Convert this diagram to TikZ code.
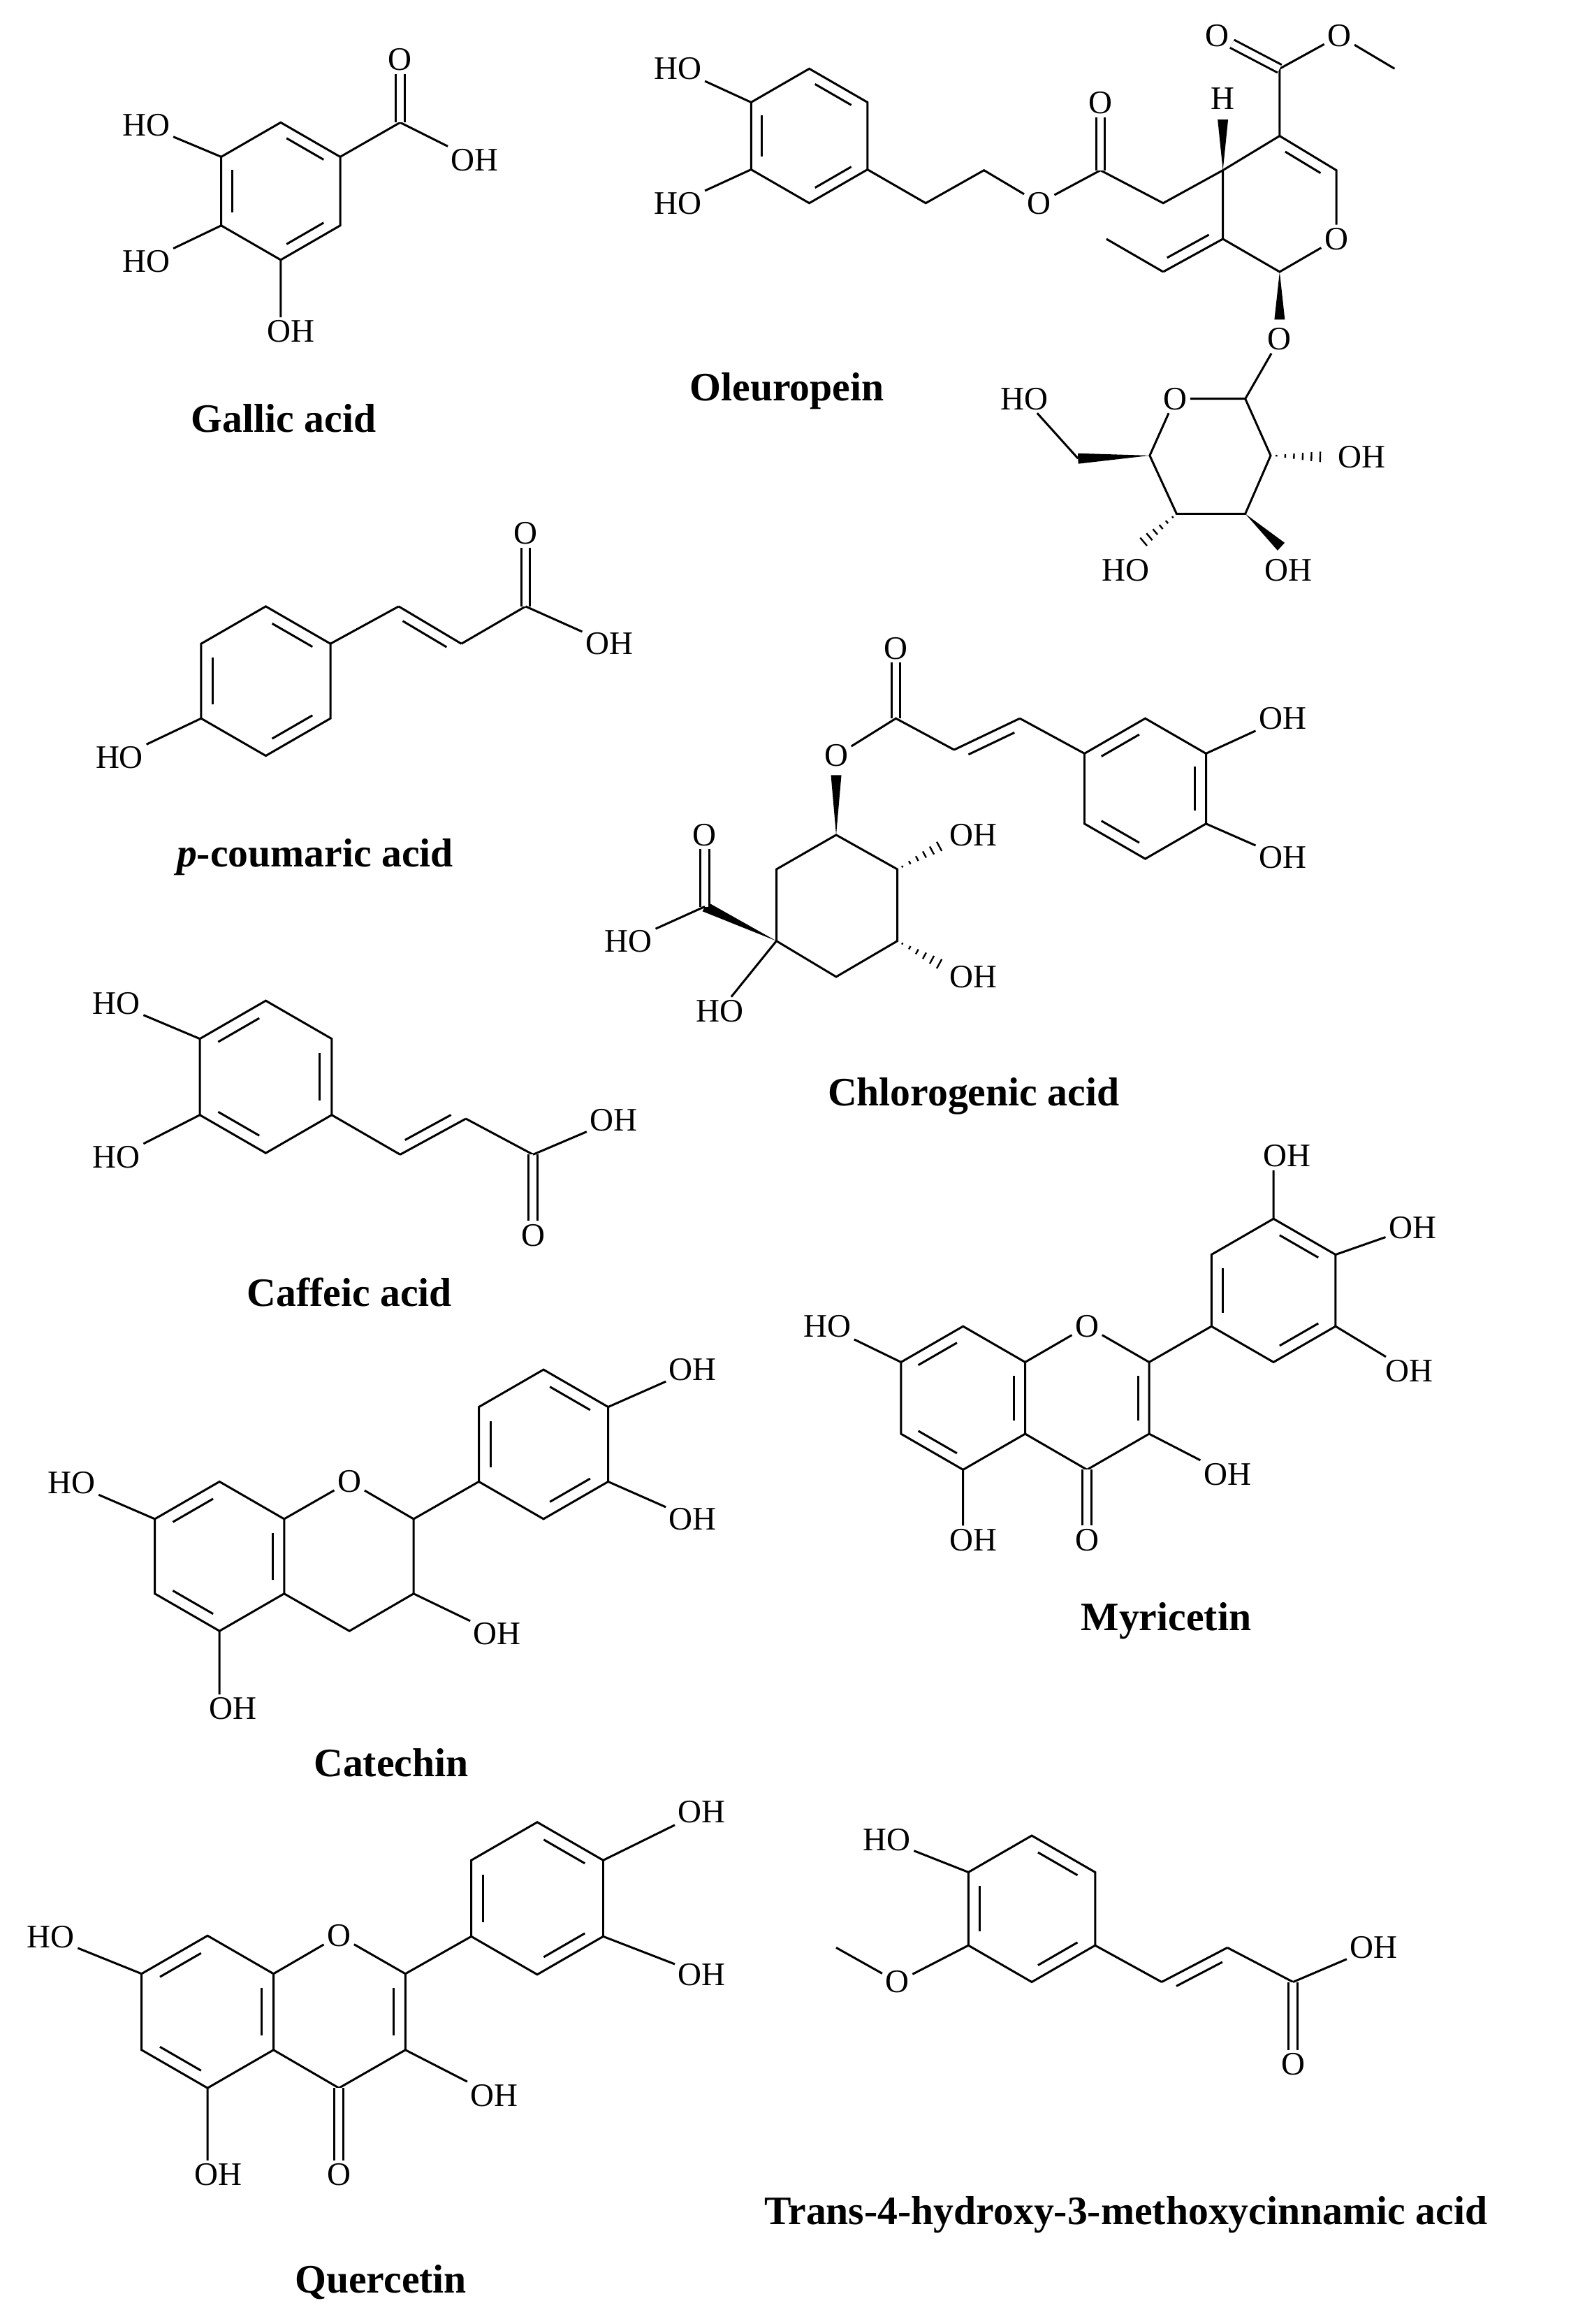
\documentclass[tikz,border=0pt]{standalone}
\usepackage{fontspec}
\setmainfont{Liberation Serif}
\usetikzlibrary{calc}
\tikzset{
 bond/.style={line width=1.4pt},
 lab/.style={font=\fontsize{22}{22}\selectfont, inner sep=2pt},
 cname/.style={font=\bfseries\fontsize{27}{27}\selectfont, inner sep=0pt},
 dbl/.style={line width=1.4pt,double,double distance=4.5pt},
}
\newcommand\hexc[4]{%
 \coordinate (#1c) at (#2,#3);
 \coordinate (#11) at ({#2},{#3-#4});
 \coordinate (#12) at ({#2+0.866*#4},{#3-0.5*#4});
 \coordinate (#13) at ({#2+0.866*#4},{#3+0.5*#4});
 \coordinate (#14) at ({#2},{#3+#4});
 \coordinate (#15) at ({#2-0.866*#4},{#3+0.5*#4});
 \coordinate (#16) at ({#2-0.866*#4},{#3-0.5*#4});
 \draw[bond] (#11)--(#12)--(#13)--(#14)--(#15)--(#16)--cycle;}
\newcommand\inn[3]{%
 \coordinate (tA) at ($(#1)!0.18!(#3)$);
 \coordinate (tB) at ($(#2)!0.18!(#3)$);
 \draw[bond] ($(tA)!0.12!(tB)$) -- ($(tB)!0.12!(tA)$);}
\newcommand\sdb[4]{%
 \draw[bond] (#1)--(#2);
 \coordinate (tA) at ($(#1)!0.15!(#2)$);
 \coordinate (tB) at ($(#2)!0.15!(#1)$);
 \draw[bond] ($(tA)!7pt!#3:(#2)$) -- ($(tB)!7pt!#4:(#1)$);}
\newcommand\wdg[2]{\fill (#1) -- ($(#2)!3.5pt!90:(#1)$) -- ($(#2)!3.5pt!-90:(#1)$) -- cycle;}
\newcommand\hashb[2]{%
 \foreach \t/\w in {0.1/0.6,0.25/1.2,0.4/1.8,0.55/2.4,0.7/3.0,0.85/3.5,1.0/4.0}{%
  \coordinate (tH) at ($(#1)!\t!(#2)$);
  \draw[line width=1.1pt] ($(tH)!\w pt!90:(#2)$) -- ($(tH)!\w pt!-90:(#2)$);}}
\begin{document}
\begin{tikzpicture}[x=1pt,y=-1pt]
\useasboundingbox (0,0) rectangle (1052,1556);
% ---------- Gallic acid
\hexc{g}{188}{128}{46}
\inn{g1}{g2}{gc}\inn{g3}{g4}{gc}\inn{g5}{g6}{gc}
\coordinate (gC) at (268,82);
\node[lab] (gO) at (268,40) {O};
\node[lab] (gOH) at (318,107) {OH};
\node[lab] (gHO1) at (98,84) {HO};
\node[lab] (gHO2) at (98,175) {HO};
\node[lab] (gOH2) at (195,222) {OH};
\draw[bond] (g2)--(gC) (gC)--(gOH) (g6)--(gHO1) (g5)--(gHO2) (g4)--(g4|-gOH2.north);
\draw[dbl] (gC)--(gO);
\node[cname] (nGal) at (190,280) {Gallic acid};
% ---------- Oleuropein
\hexc{o}{542}{91}{45}
\inn{o1}{o2}{oc}\inn{o3}{o4}{oc}\inn{o5}{o6}{oc}
\node[lab] (oHO1) at (454,46) {HO};
\node[lab] (oHO2) at (454,136) {HO};
\draw[bond] (o6)--(oHO1) (o5)--(oHO2);
\coordinate (a1) at (620,136); \coordinate (a2) at (659,114);
\node[lab] (aO) at (696,136) {O};
\coordinate (c1) at (737,114); \node[lab] (c1O) at (737,69) {O};
\coordinate (a3) at (779,136); \coordinate (C4) at (819,114);
\draw[bond] (o3)--(a1)--(a2)--(aO)--(c1)--(a3)--(C4);
\draw[dbl] (c1)--(c1O);
\node[lab] (oH) at (819,66) {H};
\coordinate (oHe) at (819,80);
\wdg{C4}{oHe}
\coordinate (C5) at (857,91); \coordinate (eC) at (857,46);
\node[lab] (eO1) at (815,24) {O};
\node[lab] (eO2) at (897,24) {O};
\coordinate (eMe) at (934,46);
\draw[bond] (C4)--(C5)--(eC)--(eO2)--(eMe);
\draw[dbl] (eC)--(eO1);
\coordinate (C6) at (895,114); \node[lab] (rO) at (895,160) {O};
\coordinate (C1) at (857,182); \coordinate (C8) at (819,160);
\coordinate (rc) at (857,137);
\draw[bond] (C5)--(C6)--(rO)--(C1)--(C8)--(C4);
\inn{C5}{C6}{rc}
\coordinate (C9) at (779,182); \coordinate (C10) at (741,160);
\sdb{C8}{C9}{-90}{90}
\draw[bond] (C9)--(C10);
\node[lab] (gO1) at (857,227) {O};
\coordinate (gO1e) at (857,214);
\wdg{C1}{gO1e}
\node[lab] (sO) at (787,267) {O};
\coordinate (S1) at (834,267); \coordinate (S2) at (851,305);
\coordinate (S3) at (834,344); \coordinate (S4) at (788,344);
\coordinate (S5) at (770,305);
\draw[bond] (gO1)--(S1) (sO)--(S1)--(S2)--(S3)--(S4)--(S5)--(sO);
\coordinate (S6) at (722,307);
\wdg{S5}{S6}
\node[lab] (sHO1) at (686,267) {HO};
\draw[bond] (S6)--(sHO1);
\node[lab] (sOH2) at (912,306) {OH};
\coordinate (S2e) at (890,306); \hashb{S2}{S2e}
\node[lab] (sOH3) at (863,382) {OH};
\coordinate (S3e) at (858,366); \wdg{S3}{S3e}
\node[lab] (sHO4) at (754,382) {HO};
\coordinate (S4e) at (762,366); \hashb{S4}{S4e}
\node[cname] (nOle) at (527,262) {Oleuropein};
% ---------- p-coumaric acid
\hexc{p}{178}{456}{50}
\inn{p1}{p2}{pc}\inn{p3}{p4}{pc}\inn{p5}{p6}{pc}
\node[lab] (pHO) at (80,507) {HO};
\draw[bond] (p5)--(pHO);
\coordinate (pa) at (267,406); \coordinate (pb) at (309,431); \coordinate (pC) at (352,406);
\draw[bond] (p2)--(pa);
\sdb{pa}{pb}{-90}{90}
\draw[bond] (pb)--(pC);
\node[lab] (pO) at (352,357) {O};
\node[lab] (pOH) at (408,431) {OH};
\draw[dbl] (pC)--(pO); \draw[bond] (pC)--(pOH);
\node[cname] (nPc) at (211,574) {\textit{p}-coumaric acid};
% ---------- Chlorogenic acid
\coordinate (kC) at (600,481); \node[lab] (kO) at (600,434) {O};
\node[lab] (kOe) at (560,506) {O};
\coordinate (ka) at (639,502); \coordinate (kb) at (683,481);
\draw[dbl] (kC)--(kO);
\draw[bond] (kOe)--(kC)--(ka);
\sdb{ka}{kb}{-90}{90}
\hexc{k}{767}{528}{47}
\draw[bond] (kb)--(k6);
\inn{k6}{k1}{kc}\inn{k2}{k3}{kc}\inn{k4}{k5}{kc}
\node[lab] (kOH1) at (859,481) {OH};
\node[lab] (kOH2) at (859,574) {OH};
\draw[bond] (k2)--(kOH1) (k3)--(kOH2);
\coordinate (Q1) at (560,559); \coordinate (Q2) at (601,582); \coordinate (Q3) at (601,630);
\coordinate (Q4) at (560,654); \coordinate (Q5) at (520,630); \coordinate (Q6) at (520,582);
\draw[bond] (Q1)--(Q2)--(Q3)--(Q4)--(Q5)--(Q6)--cycle;
\coordinate (Q1e) at (560,519); \wdg{Q1}{Q1e}
\node[lab] (qOH2) at (652,559) {OH};
\coordinate (Q2e) at (634,564); \hashb{Q2}{Q2e}
\node[lab] (qOH3) at (652,654) {OH};
\coordinate (Q3e) at (634,648); \hashb{Q3}{Q3e}
\coordinate (qC) at (472,607); \wdg{Q5}{qC}
\node[lab] (qO) at (472,559) {O};
\node[lab] (qHO) at (421,630) {HO};
\draw[dbl] (qC)--(qO); \draw[bond] (qC)--(qHO);
\node[lab] (qHO5) at (482,677) {HO};
\draw[bond] (Q5)--(qHO5);
\node[cname] (nChl) at (652,734) {Chlorogenic acid};
% ---------- Caffeic acid
\hexc{f}{178}{721}{51}
\inn{f6}{f1}{fc}\inn{f2}{f3}{fc}\inn{f4}{f5}{fc}
\node[lab] (fHO1) at (78,672) {HO};
\node[lab] (fHO2) at (78,775) {HO};
\draw[bond] (f6)--(fHO1) (f5)--(fHO2);
\coordinate (fa) at (268,773); \coordinate (fb) at (312,749); \coordinate (fC) at (357,773);
\draw[bond] (f3)--(fa);
\sdb{fa}{fb}{90}{-90}
\draw[bond] (fb)--(fC);
\node[lab] (fO) at (357,827) {O};
\node[lab] (fOH) at (411,750) {OH};
\draw[dbl] (fC)--(fO); \draw[bond] (fC)--(fOH);
\node[cname] (nCaf) at (234,865) {Caffeic acid};
% ---------- Catechin
\hexc{t}{147}{1042}{50}
\inn{t6}{t1}{tc}\inn{t2}{t3}{tc}\inn{t4}{t5}{tc}
\node[lab] (tO) at (234,992) {O};
\coordinate (tC2) at (277,1017); \coordinate (tC3) at (277,1067); \coordinate (tC4) at (234,1092);
\draw[bond] (t2)--(tO)--(tC2)--(tC3)--(tC4)--(t3);
\node[lab] (tOH3) at (333,1094) {OH};
\node[lab] (tOH5) at (156,1144) {OH};
\node[lab] (tHO7) at (48,993) {HO};
\draw[bond] (tC3)--(tOH3) (t4)--(t4|-tOH5.north) (t6)--(tHO7);
\hexc{u}{364}{967}{50}
\inn{u1}{u2}{uc}\inn{u3}{u4}{uc}\inn{u5}{u6}{uc}
\draw[bond] (tC2)--(u5);
\node[lab] (uOH1) at (464,917) {OH};
\node[lab] (uOH2) at (464,1017) {OH};
\draw[bond] (u2)--(uOH1) (u3)--(uOH2);
\node[cname] (nCat) at (262,1180) {Catechin};
% ---------- Myricetin
\hexc{m}{645}{936}{48}
\inn{m6}{m1}{mc}\inn{m2}{m3}{mc}\inn{m4}{m5}{mc}
\node[lab] (mO) at (728,888) {O};
\coordinate (mC2) at (769.6,912); \coordinate (mC3) at (769.6,960); \coordinate (mC4) at (728,984);
\coordinate (mcc) at (728,936);
\draw[bond] (m2)--(mO)--(mC2)--(mC3)--(mC4)--(m3);
\inn{mC2}{mC3}{mcc}
\node[lab] (mO4) at (728,1031) {O};
\draw[dbl] (mC4)--(mO4);
\node[lab] (mOH3) at (822,987) {OH};
\node[lab] (mOH5) at (652,1031) {OH};
\node[lab] (mHO7) at (554,888) {HO};
\draw[bond] (mC3)--(mOH3) (m4)--(m4|-mOH5.north) (m6)--(mHO7);
\hexc{n}{852.9}{864}{48}
\inn{n1}{n2}{nc}\inn{n3}{n4}{nc}\inn{n5}{n6}{nc}
\draw[bond] (mC2)--(n5);
\node[lab] (nOH1) at (862,774) {OH};
\node[lab] (nOH2) at (946,822) {OH};
\node[lab] (nOH3) at (944,918) {OH};
\draw[bond] (n1)--(n1|-nOH1.south) (n2)--(nOH2) (n3)--(nOH3);
\node[cname] (nMyr) at (781,1085) {Myricetin};
% ---------- Quercetin
\hexc{q}{139}{1347}{51}
\inn{q6}{q1}{qc}\inn{q2}{q3}{qc}\inn{q4}{q5}{qc}
\node[lab] (qqO) at (227,1296) {O};
\coordinate (qC2) at (271.5,1321.5); \coordinate (qC3) at (271.5,1372.5); \coordinate (qC4) at (227,1398);
\coordinate (qcc) at (227,1347);
\draw[bond] (q2)--(qqO)--(qC2)--(qC3)--(qC4)--(q3);
\inn{qC2}{qC3}{qcc}
\node[lab] (qO4) at (227,1456) {O};
\draw[dbl] (qC4)--(qO4);
\node[lab] (qOH3) at (331,1403) {OH};
\node[lab] (qOH5) at (146,1456) {OH};
\node[lab] (qHO7) at (34,1297) {HO};
\draw[bond] (qC3)--(qOH3) (q4)--(q4|-qOH5.north) (q6)--(qHO7);
\hexc{r}{359.8}{1271}{51}
\inn{r1}{r2}{rc}\inn{r3}{r4}{rc}\inn{r5}{r6}{rc}
\draw[bond] (qC2)--(r5);
\node[lab] (rOH1) at (470,1213) {OH};
\node[lab] (rOH2) at (470,1322) {OH};
\draw[bond] (r2)--(rOH1) (r3)--(rOH2);
\node[cname] (nQue) at (255,1528) {Quercetin};
% ---------- Ferulic acid
\hexc{e}{691}{1278}{49}
\inn{e1}{e2}{ec}\inn{e3}{e4}{ec}\inn{e5}{e6}{ec}
\node[lab] (eHO) at (594,1232) {HO};
\node[lab] (eOm) at (601,1327) {O};
\coordinate (eMe2) at (560,1304);
\draw[bond] (e6)--(eHO) (e5)--(eOm)--(eMe2);
\coordinate (ea) at (778,1327); \coordinate (eb) at (822,1304); \coordinate (eCc) at (866,1327);
\draw[bond] (e3)--(ea);
\sdb{ea}{eb}{-90}{90}
\draw[bond] (eb)--(eCc);
\node[lab] (eO3) at (866,1382) {O};
\node[lab] (eOH3) at (920,1304) {OH};
\draw[dbl] (eCc)--(eO3); \draw[bond] (eCc)--(eOH3);
\node[cname] (nFer) at (754,1483) {Trans-4-hydroxy-3-methoxycinnamic acid};
\end{tikzpicture}
\end{document}
